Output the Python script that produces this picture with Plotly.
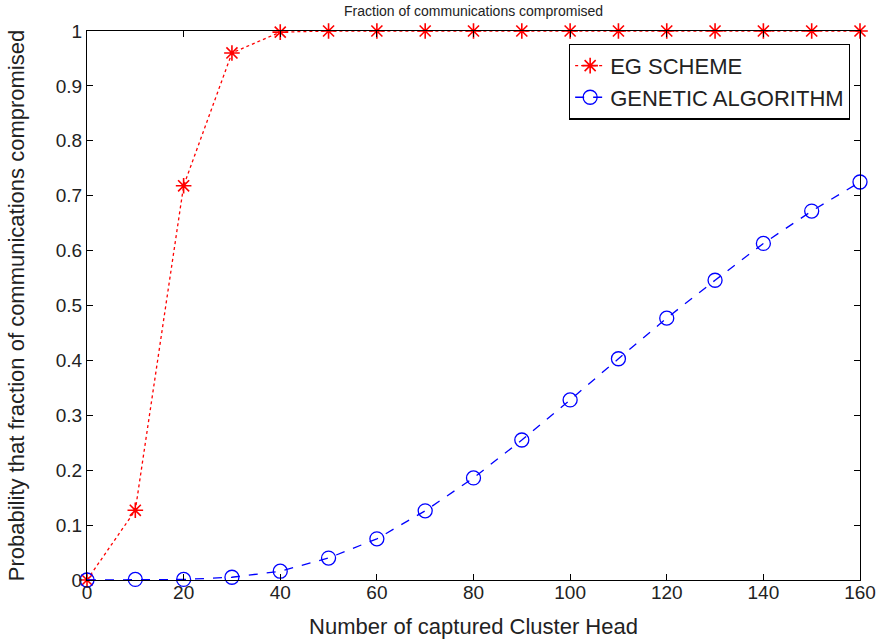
import plotly.graph_objects as go

x_vals = [0, 10, 20, 30, 40, 50, 60, 70, 80, 90, 100, 110, 120, 130, 140, 150, 160]
eg_scheme = [0, 0.127, 0.718, 0.960, 0.998, 1, 1, 1, 1, 1, 1, 1, 1, 1, 1, 1, 1]
genetic_alg = [0, 0.001, 0.001, 0.005, 0.016, 0.040, 0.075, 0.126, 0.186, 0.255, 0.328,
               0.403, 0.477, 0.546, 0.613, 0.672, 0.725]
x_ticks = [0, 20, 40, 60, 80, 100, 120, 140, 160]
y_ticks = [0, 0.1, 0.2, 0.3, 0.4, 0.5, 0.6, 0.7, 0.8, 0.9, 1]
y_tick_labels = ["0", "0.1", "0.2", "0.3", "0.4", "0.5", "0.6", "0.7", "0.8", "0.9", "1"]

FONT = "Liberation Sans, Arial"
TXT = "#222"

fig = go.Figure()
fig.add_trace(go.Scatter(
    x=x_vals, y=eg_scheme, mode="lines+markers", name="EG SCHEME",
    line=dict(color="red", width=1.3, dash="dot"),
    marker=dict(symbol="asterisk-open", size=13, color="red", line=dict(color="red", width=1.6)),
    cliponaxis=False))
fig.add_trace(go.Scatter(
    x=x_vals, y=genetic_alg, mode="lines+markers", name="GENETIC ALGORITHM",
    line=dict(color="blue", width=1.3, dash="dash"),
    marker=dict(symbol="circle-open", size=14, color="blue", line=dict(color="blue", width=1.3)),
    cliponaxis=False))

axis_common = dict(showgrid=False, zeroline=False, showline=True, linecolor="black", linewidth=1.2,
                   mirror="ticks", ticks="inside", ticklen=6, tickcolor="black", automargin=False,
                   ticklabeloverflow="allow",
                   tickfont=dict(family=FONT, size=19, color=TXT))
fig.update_xaxes(range=[0, 160], tickvals=x_ticks, ticklabelstandoff=-5, **axis_common,
                 title=dict(text="Number of captured Cluster Head",
                            font=dict(family=FONT, size=22, color=TXT), standoff=18))
fig.update_yaxes(range=[0, 1], tickvals=y_ticks, ticktext=y_tick_labels, **axis_common,
                 title=dict(text="Probability that fraction of communications compromised",
                            font=dict(family=FONT, size=22, color=TXT), standoff=24))

fig.add_annotation(text="Fraction of communications compromised", xref="paper", yref="paper",
                   x=0.5, y=1.0, yshift=30, showarrow=False, yanchor="top",
                   font=dict(family=FONT, size=14, color=TXT))

fig.update_layout(
    width=880, height=639,
    margin=dict(l=87, r=20, t=31, b=59),
    plot_bgcolor="white", paper_bgcolor="white",
    legend=dict(x=0.987, y=0.977, xanchor="right", yanchor="top",
                bordercolor="black", borderwidth=1.2, bgcolor="white",
                font=dict(family=FONT, size=22, color=TXT),
                tracegroupgap=0),
    showlegend=True)

fig.write_html("out.html", config={"displayModeBar": False},
               post_script="document.body.style.margin='0px';document.body.style.overflow='hidden';")
